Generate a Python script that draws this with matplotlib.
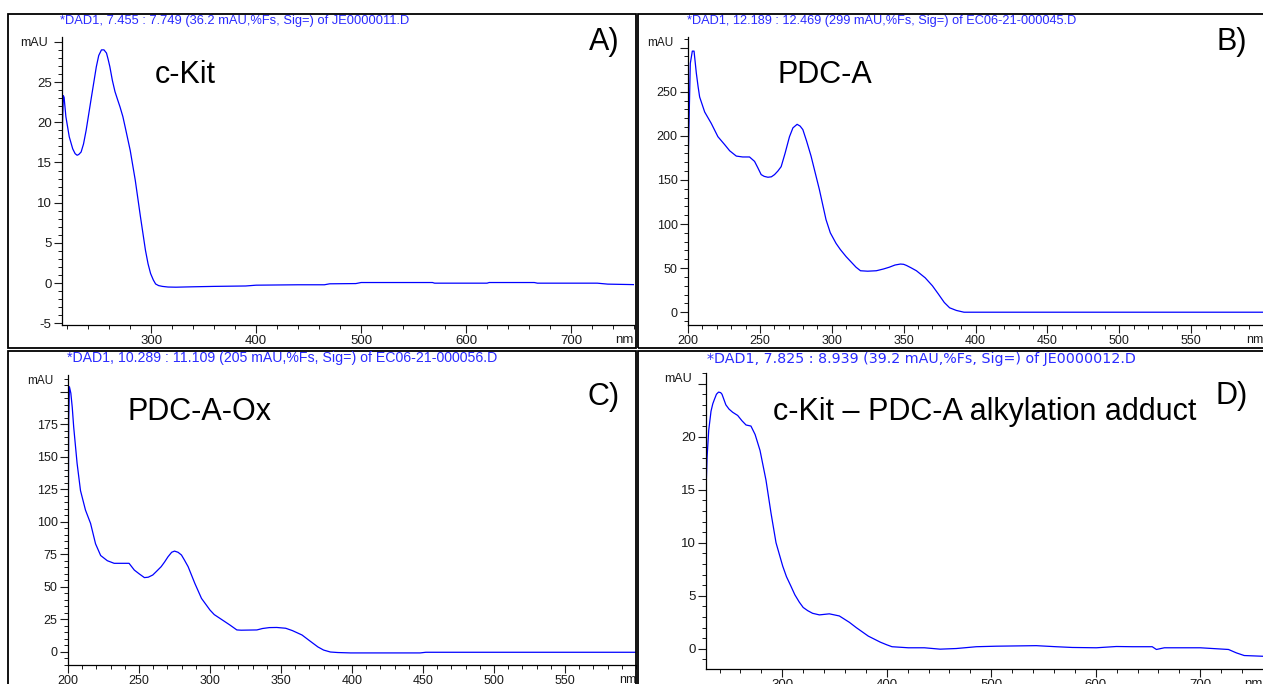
import numpy as np
import matplotlib
matplotlib.use("Agg")
import matplotlib.pyplot as plt
from matplotlib.ticker import MultipleLocator, FixedLocator

plt.rcParams['font.family'] = ['Liberation Sans', 'DejaVu Sans']

# A) c-Kit
wl_a = [215, 215.5, 216.3, 217, 218.7, 221.9, 225.2, 227.5, 229.4, 231, 233.2, 235.5, 238,
        243, 247.7, 250, 252.6, 255, 257.4, 259, 260.6, 263, 265.5, 268, 270.3, 273, 275.2,
        280, 284.8, 289.7, 294.5, 297, 299.4, 302, 304.2, 307, 310.6, 316, 323.5, 340, 360,
        390, 400, 440, 465, 470, 495, 500, 568, 570, 620, 622, 665, 668, 725, 735, 760]
abs_a = [16.9, 20.0, 23.3, 23.1, 20.7, 18.2, 16.7, 16.1, 15.9, 16.0, 16.3, 17.3, 19.0,
         23.1, 26.9, 28.3, 29.0, 29.0, 28.6, 27.8, 26.9, 25.2, 23.8, 22.8, 21.9, 20.7, 19.4,
         16.5, 12.8, 8.3, 4.1, 2.4, 1.2, 0.4, -0.1, -0.3, -0.4, -0.48, -0.5, -0.45, -0.4,
         -0.35, -0.25, -0.2, -0.2, -0.08, -0.05, 0.08, 0.08, 0.0, 0.0, 0.08, 0.08, 0.0, 0.0,
         -0.12, -0.18]

# B) PDC-A
wl_b = [200, 200.7, 201.6, 203, 204.2, 205.8, 207, 208.1, 211.6, 216.2, 220.8, 225.5, 229,
        233.6, 238, 242.8, 246.3, 248.5, 250.9, 253, 255.6, 258, 260.2, 262.5, 264.8, 267.5,
        270.6, 273, 275.9, 278, 279.9, 282.5, 285.6, 291.4, 296, 299, 303, 306, 310, 316.9,
        320, 325, 331, 336, 340, 344, 347.8, 350, 352, 355, 358.9, 365, 370, 374, 378.3,
        382, 386.7, 392, 450, 600]
abs_b = [161, 214, 282, 296, 296, 271, 256, 244, 227, 214, 199, 190, 183,
         177, 176, 176, 171, 164, 156, 154, 153, 153.5, 156, 160, 165, 180,
         199, 209, 213, 211, 207, 194, 177, 139, 105, 90, 78, 71, 63, 51,
         47, 46.5, 47, 49, 51, 53.5, 54.6, 54.3, 53, 50.5, 47, 39, 30, 21, 11,
         5, 2, 0, 0, 0]

# C) PDC-A-Ox
wl_c = [200, 200.5, 201, 202, 203, 204, 206.4, 208.8, 212.3, 215.9, 219.4, 223, 227.7,
        232.5, 243, 246.7, 250, 253.8, 256.5, 259.7, 262.5, 265.6, 268, 270.4, 273, 275,
        277.5, 279.9, 282, 284.6, 289.3, 294, 300, 303, 307, 310.3, 314, 318.9, 322, 333,
        337, 341.8, 347, 353.3, 358, 364.8, 370, 376, 380, 384.8, 390, 399, 448, 452, 600]
abs_c = [40, 180, 204, 199, 188, 173, 145, 124, 109, 98.7, 83, 74, 70,
         68, 68, 62.8, 60, 57, 57.3, 59, 62, 65.4, 69, 73, 76.5, 77.4,
         76.5, 74.4, 70.5, 65.4, 52.6, 41, 32, 28.5, 25.6, 23.2, 20.5, 16.7, 16.5, 16.7,
         17.8, 18.5, 18.6, 18, 16.2, 12.8, 8.5, 3.6, 1.2, -0.3, -0.7, -1, -1, -0.5, -0.5]

# D) c-Kit - PDC-A alkylation adduct
wl_d = [227, 228, 229.6, 231.8, 233.5, 235, 237, 239, 241, 242.3, 246, 249, 252.5, 257.3,
        261.4, 265.3, 270, 274, 278.7, 284.4, 289.2, 294, 300.4, 304, 308.3, 312, 316.3,
        320, 324.3, 329, 335.5, 345, 354.6, 364.2, 370.8, 382.3, 393.8, 400, 405, 420.6, 436,
        451, 466.5, 485.7, 504.8, 543, 562, 577.5, 600.5, 619.7, 635, 654, 658, 665.6, 700,
        727, 734.5, 742, 760]
abs_d = [14.8, 18.0, 20.6, 22.4, 23.1, 23.5, 24.0, 24.2, 24.15, 24.0, 23.0, 22.6, 22.3, 22.0,
         21.5, 21.1, 21.0, 20.2, 18.7, 15.9, 12.8, 10.0, 7.8, 6.8, 5.9, 5.1, 4.4,
         3.9, 3.6, 3.35, 3.2, 3.3, 3.1, 2.5, 2.0, 1.2, 0.63, 0.38, 0.2, 0.1, 0.1,
         -0.03, 0.03, 0.2, 0.25, 0.3, 0.2, 0.13, 0.1, 0.22, 0.2, 0.2, -0.06, 0.1, 0.1,
         -0.06, -0.38, -0.63, -0.7]

titles = ["*DAD1, 7.455 : 7.749 (36.2 mAU,%Fs, Sig=) of JE0000011.D",
          "*DAD1, 12.189 : 12.469 (299 mAU,%Fs, Sig=) of EC06-21-000045.D",
          "*DAD1, 10.289 : 11.109 (205 mAU,%Fs, Sig=) of EC06-21-000056.D",
          "*DAD1, 7.825 : 8.939 (39.2 mAU,%Fs, Sig=) of JE0000012.D"]
names = ["c-Kit", "PDC-A", "PDC-A-Ox", "c-Kit \u2013 PDC-A alkylation adduct"]
letters = ["A)", "B)", "C)", "D)"]

W, H = 1263, 684
fig = plt.figure(figsize=(W / 100, H / 100), dpi=100)


def px(x, y):
    return x / W, 1 - y / H


def add_axes(l, t, r, b):
    return fig.add_axes([l / W, 1 - b / H, (r - l) / W, (b - t) / H])


# panel frames
for l, t, r, b in [(8, 14, 636, 348), (638, 14, 1275, 348),
                   (8, 351, 636, 695), (638, 351, 1275, 695)]:
    fig.add_artist(plt.Rectangle(px(l, b), (r - l) / W, (b - t) / H,
                                 transform=fig.transFigure, fill=False,
                                 ec='black', lw=1.3))

# (axes box, xlim, ylim, x major, x minor, y major, y minor)
panels = [
    ((62, 37, 634, 325), (215, 760), (-5.2, 30.6), np.arange(300, 701, 100), 20, np.arange(-5, 31, 5), 1),
    ((688, 37, 1263, 325), (200, 600), (-14.5, 312), np.arange(200, 551, 50), 10, np.arange(0, 301, 50), 10),
    ((68, 375, 636, 665), (200, 600), (-10.3, 213), np.arange(200, 551, 50), 10, np.arange(0, 201, 25), 5),
    ((706, 373, 1263, 669), (227, 760), (-1.9, 26), np.arange(300, 701, 100), 20, np.arange(0, 26, 5), 1),
]
data = [(wl_a, abs_a), (wl_b, abs_b), (wl_c, abs_c), (wl_d, abs_d)]

for i, (box, xl, yl, xmaj, xmin, ymaj, ymin) in enumerate(panels):
    ax = add_axes(*box)
    ax.plot(data[i][0], data[i][1], color='#0000ff', lw=0.9)
    ax.set_xlim(xl)
    ax.set_ylim(yl)
    for s in ['top', 'right']:
        ax.spines[s].set_visible(False)
    for s in ['left', 'bottom']:
        ax.spines[s].set_linewidth(0.9)
    ax.xaxis.set_major_locator(FixedLocator(xmaj))
    ax.xaxis.set_minor_locator(MultipleLocator(xmin))
    ax.yaxis.set_major_locator(FixedLocator(ymaj))
    ax.yaxis.set_minor_locator(MultipleLocator(ymin))
    ylabels = [str(v) for v in ymaj]
    ylabels[-1] = ''
    ax.set_yticklabels(ylabels)
    fs = 9.5 if i in (0, 3) else 9
    ax.tick_params(which='major', length=5.5, width=0.8, labelsize=fs, pad=2, colors='#1a1a1a')
    ax.tick_params(which='minor', length=2.7, width=0.7, colors='#1a1a1a')
    ax.text(-0.025, 1 - 6 / (box[3] - box[1]), 'mAU', transform=ax.transAxes,
            ha='right', va='center', fontsize=fs - 0.5, color='#1a1a1a')
    ax.text(1.0, -0.03, 'nm', transform=ax.transAxes, ha='right', va='top',
            fontsize=fs, color='#1a1a1a')
    ax.patch.set_alpha(0)

# blue headers
title_pos = [(60, 21, 9.3, 'Liberation Sans'), (687, 21, 9.2, 'Liberation Sans'),
             (67, 358, 10.2, 'Liberation Sans'), (707, 359, 10.3, 'DejaVu Sans')]
for t, (x, y, fs, fam) in zip(titles, title_pos):
    fig.text(*px(x, y), t, ha='left', va='center', fontsize=fs, color='#2a2aff',
             family=fam)

# compound names and panel letters
name_pos = [(155, 75), (778, 75), (127, 412), (773, 412)]
letter_pos = [(620, 42), (1247, 42), (620, 397), (1248, 396)]
for n, (x, y) in zip(names, name_pos):
    fig.text(*px(x, y), n, ha='left', va='center', fontsize=22, color='black')
for n, (x, y) in zip(letters, letter_pos):
    fig.text(*px(x, y), n, ha='right', va='center', fontsize=22, color='black')

fig.savefig("out.png", dpi=100, facecolor='white')
